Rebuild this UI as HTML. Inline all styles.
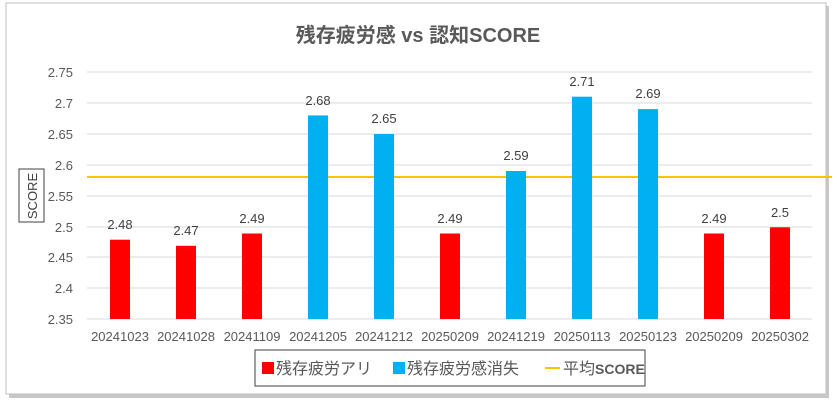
<!DOCTYPE html>
<html><head><meta charset="utf-8"><style>
body{margin:0;width:837px;height:406px;background:#fff;overflow:hidden}
</style></head><body>
<svg width="837" height="406" xmlns="http://www.w3.org/2000/svg" font-family="Liberation Sans, Noto Sans CJK JP, sans-serif">
<rect x="9" y="6" width="820" height="392" fill="#c8c8c8"/>
<rect x="6" y="3" width="820" height="391" fill="#fff" stroke="#bfbfbf" stroke-width="1"/>
<text x="418" y="42" text-anchor="middle" font-size="20" font-weight="bold" fill="#595959">残存疲労感 vs 認知SCORE</text>
<g stroke="#d9d9d9" stroke-width="1">
<line x1="87" x2="812" y1="72" y2="72"/><line x1="87" x2="812" y1="103" y2="103"/>
<line x1="87" x2="812" y1="134" y2="134"/><line x1="87" x2="812" y1="165" y2="165"/>
<line x1="87" x2="812" y1="196" y2="196"/><line x1="87" x2="812" y1="227" y2="227"/>
<line x1="87" x2="812" y1="257" y2="257"/><line x1="87" x2="812" y1="288" y2="288"/>
<line x1="87" x2="812" y1="319" y2="319"/>
</g>
<g font-size="13" fill="#595959" text-anchor="end">
<text x="73" y="77">2.75</text><text x="73" y="108">2.7</text><text x="73" y="139">2.65</text>
<text x="73" y="170">2.6</text><text x="73" y="201">2.55</text><text x="73" y="232">2.5</text>
<text x="73" y="262">2.45</text><text x="73" y="293">2.4</text><text x="73" y="324">2.35</text>
</g>
<rect x="19" y="169" width="25" height="53" fill="#fff" stroke="#404040"/>
<text transform="translate(37,196) rotate(-90)" text-anchor="middle" font-size="13" fill="#404040">SCORE</text>
<line x1="87" x2="832" y1="177" y2="177" stroke="#ffc000" stroke-width="2"/>
<g font-size="13" fill="#404040" text-anchor="middle">
<rect x="110" y="239.7" width="20" height="79.3" fill="#ff0000"/><text x="120" y="229">2.48</text>
<rect x="176" y="245.8" width="20" height="73.2" fill="#ff0000"/><text x="186" y="235">2.47</text>
<rect x="242" y="233.5" width="20" height="85.5" fill="#ff0000"/><text x="252" y="223">2.49</text>
<rect x="308" y="115.4" width="20" height="203.6" fill="#00b0f0"/><text x="318" y="105">2.68</text>
<rect x="374" y="134" width="20" height="185" fill="#00b0f0"/><text x="384" y="123">2.65</text>
<rect x="440" y="233.5" width="20" height="85.5" fill="#ff0000"/><text x="450" y="223">2.49</text>
<rect x="506" y="171.0" width="20" height="148" fill="#00b0f0"/><text x="516" y="160">2.59</text>
<rect x="572" y="96.7" width="20" height="222.3" fill="#00b0f0"/><text x="582" y="86">2.71</text>
<rect x="638" y="109.1" width="20" height="209.9" fill="#00b0f0"/><text x="648" y="98">2.69</text>
<rect x="704" y="233.5" width="20" height="85.5" fill="#ff0000"/><text x="714" y="223">2.49</text>
<rect x="770" y="227.3" width="20" height="91.7" fill="#ff0000"/><text x="780" y="217">2.5</text>
</g>
<g font-size="13" fill="#595959" text-anchor="middle">
<text x="120" y="341">20241023</text><text x="186" y="341">20241028</text><text x="252" y="341">20241109</text>
<text x="318" y="341">20241205</text><text x="384" y="341">20241212</text><text x="450" y="341">20250209</text>
<text x="516" y="341">20241219</text><text x="582" y="341">20250113</text><text x="648" y="341">20250123</text>
<text x="714" y="341">20250209</text><text x="780" y="341">20250302</text>
</g>
<rect x="255" y="350" width="390" height="36" fill="#fff" stroke="#404040"/>
<g font-size="16" fill="#595959">
<rect x="262" y="362" width="12" height="12" fill="#ff0000"/><text x="276" y="374">残存疲労アリ</text>
<rect x="393" y="362" width="12" height="12" fill="#00b0f0"/><text x="407" y="374">残存疲労感消失</text>
<line x1="545" x2="560" y1="368" y2="368" stroke="#ffc000" stroke-width="2"/><text x="563" y="374">平均<tspan font-weight="bold" font-size="14">SCORE</tspan></text>
</g>
</svg>
</body></html>
